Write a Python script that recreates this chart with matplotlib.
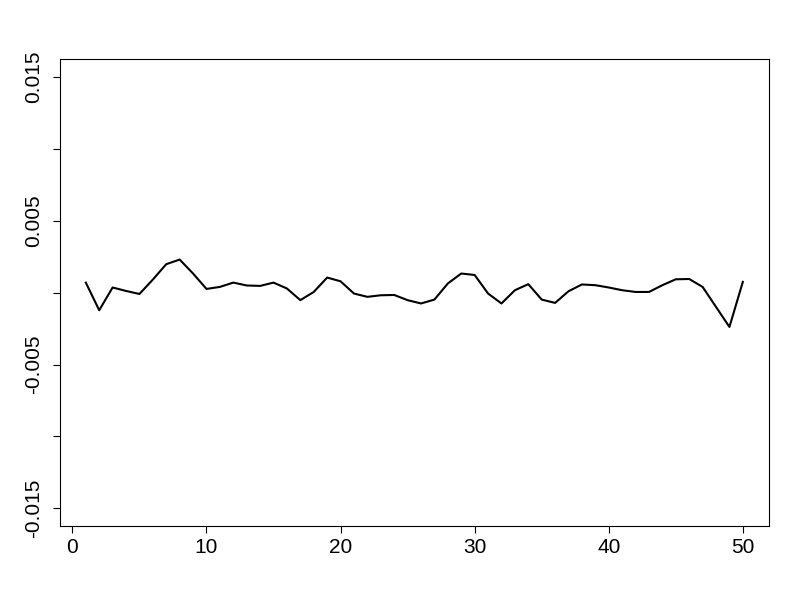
import numpy as np
import matplotlib.pyplot as plt

plt.rcParams['font.family'] = ['Liberation Sans', 'DejaVu Sans']

# values (in units of 1e-3)
idx = list(range(1, 51))
vals_e3 = [0.69, -1.23, 0.35, 0.11, -0.10, 0.90, 1.97, 2.29, 1.32, 0.25,
           0.39, 0.69, 0.49, 0.46, 0.69, 0.28, -0.53, 0.04, 1.04, 0.78,
           -0.07, -0.30, -0.19, -0.17, -0.53, -0.76, -0.49, 0.63, 1.32, 1.22,
           -0.07, -0.76, 0.16, 0.58, -0.49, -0.72, 0.09, 0.56, 0.51, 0.35,
           0.16, 0.04, 0.04, 0.51, 0.92, 0.94, 0.39, -1.00, -2.39, 0.74]
vals = np.array(vals_e3) / 1000.0

xticks = [0, 10, 20, 30, 40, 50]
yticks = [-0.015, -0.010, -0.005, 0.0, 0.005, 0.010, 0.015]
ylabels = ['-0.015', '', '-0.005', '', '0.005', '', '0.015']

fig = plt.figure(figsize=(8, 6), dpi=100)
ax = fig.add_axes([0.0744, 0.1238, 0.887, 0.7773])

ax.plot(idx, vals, color='black', lw=1.5)

# R style 4% padding
ax.set_xlim(1 - 0.04 * 49, 50 + 0.04 * 49)
ax.set_ylim(-0.015 - 0.04 * 0.03, 0.015 + 0.04 * 0.03)

ax.set_xticks(xticks)
ax.set_xticklabels([str(t) for t in xticks])
ax.set_yticks(yticks)
ax.set_yticklabels(ylabels, rotation=90, va='center')

ax.tick_params(axis='both', direction='out', length=5, width=0.8,
               labelsize=15, colors='black')
ax.tick_params(axis='x', pad=3.5)
ax.tick_params(axis='y', pad=7)
for s in ax.spines.values():
    s.set_linewidth(0.8)
    s.set_color('black')

fig.savefig('out.png', dpi=100)
